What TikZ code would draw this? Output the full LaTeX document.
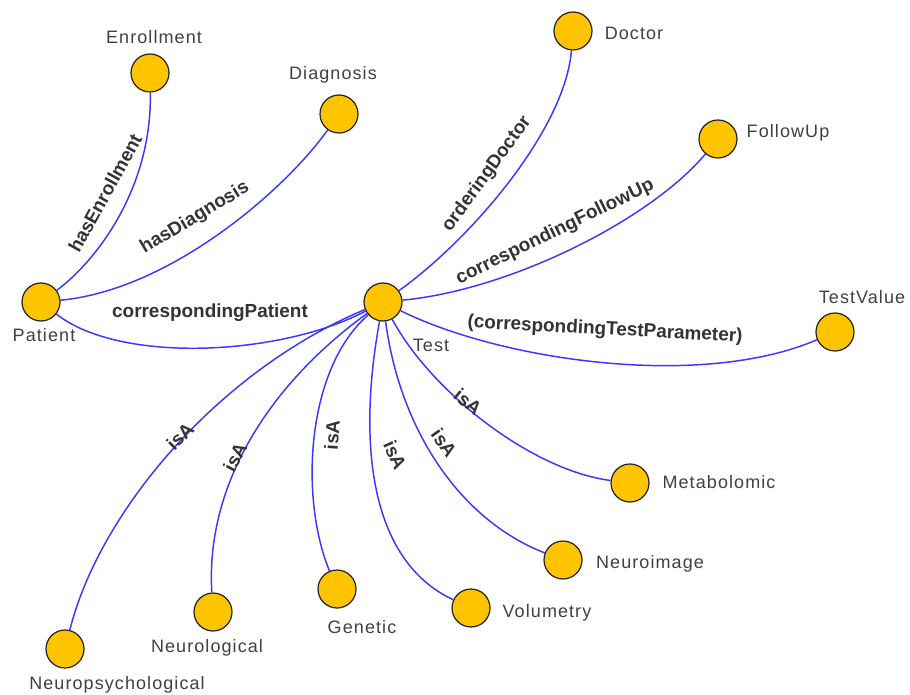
\documentclass[tikz,border=0pt]{standalone}
\usepackage{fontspec}
\setmainfont{Liberation Sans}
\newfontfamily\lblfont[LetterSpace=6]{Liberation Sans}
\definecolor{nodefill}{HTML}{FFC400}
\definecolor{nodeline}{HTML}{222222}
\definecolor{edgeblue}{HTML}{3838FF}
\definecolor{txtgray}{HTML}{404040}
\definecolor{lblgray}{HTML}{333333}
\begin{document}
\begin{tikzpicture}[x=0.75pt,y=-0.75pt,
  cls/.style={circle,fill=nodefill,draw=nodeline,line width=0.9pt,minimum size=28.5pt,inner sep=0pt},
  nametext/.style={text=txtgray,font=\lblfont\fontsize{13.5pt}{15pt}\selectfont,inner sep=0pt},
  rel/.style={text=lblgray,font=\bfseries\fontsize{14.2pt}{16pt}\selectfont,inner sep=0pt},
  conn/.style={draw=edgeblue,line width=1.1pt}]
\useasboundingbox (0,0) rectangle (910,695);
% nodes
\node[cls] (enr) at (150,73) {};
\node[cls] (dia) at (339,114) {};
\node[cls] (pat) at (41,302) {};
\node[cls] (tst) at (383,302) {};
\node[cls] (doc) at (573,31) {};
\node[cls] (fol) at (718,139) {};
\node[cls] (tv) at (835,332) {};
\node[cls] (met) at (630,483) {};
\node[cls] (nim) at (563,560) {};
\node[cls] (vol) at (471,608) {};
\node[cls] (gen) at (337,589) {};
\node[cls] (nrl) at (213,612) {};
\node[cls] (nps) at (65,649) {};
% node names
\node[nametext] (enrT) at (154,37) {Enrollment};
\node[nametext] (diaT) at (333,75) {Diagnosis};
\node[nametext] (patT) at (44,335) {Patient};
\node[nametext] (tstT) at (431,345) {Test};
\node[nametext] (docT) at (634,33) {Doctor};
\node[nametext] (folT) at (788,133) {FollowUp};
\node[nametext] (tvT) at (862,297) {TestValue};
\node[nametext] (metT) at (719,482) {Metabolomic};
\node[nametext] (nimT) at (650,564) {Neuroimage};
\node[nametext] (volT) at (547,613) {Volumetry};
\node[nametext] (genT) at (362,627) {Genetic};
\node[nametext] (nrlT) at (207,648) {Neurological};
\node[nametext] (npsT) at (117,685) {Neuropsychological};
% edges
\draw[conn] (pat) .. controls (95,262) and (152,190) .. (enr);
\draw[conn] (pat) .. controls (170,290) and (285,190) .. (dia);
\draw[conn] (pat) .. controls (120,364) and (280,356) .. (tst);
\draw[conn] (tst) .. controls (470,240) and (565,130) .. (doc);
\draw[conn] (tst) .. controls (510,290) and (650,220) .. (fol);
\draw[conn] (tst) .. controls (500,360) and (700,390) .. (tv);
\draw[conn] (tst) .. controls (430,390) and (530,470) .. (met);
\draw[conn] (tst) .. controls (400,430) and (460,520) .. (nim);
\draw[conn] (tst) .. controls (358,440) and (368,560) .. (vol);
\draw[conn] (tst) .. controls (305,370) and (300,500) .. (gen);
\draw[conn] (tst) .. controls (275,380) and (205,480) .. (nrl);
\draw[conn] (tst) .. controls (220,370) and (100,510) .. (nps);
% edge labels
\node[rel,rotate=61] (l1) at (105,193) {hasEnrollment};
\node[rel,rotate=31] (l2) at (195,218) {hasDiagnosis};
\node[rel] (l3) at (210,313) {correspondingPatient};
\node[rel,rotate=54] (l4) at (487,174) {orderingDoctor};
\node[rel,rotate=26] (l5) at (555,232) {correspondingFollowUp};
\node[rel,rotate=-3] (l6) at (605,330) {(correspondingTestParameter)};
\node[rel,rotate=-40] (l7) at (468,402) {isA};
\node[rel,rotate=-55] (l8) at (444,443) {isA};
\node[rel,rotate=-66] (l9) at (395,455) {isA};
\node[rel,rotate=86] (l10) at (332,435) {isA};
\node[rel,rotate=62] (l11) at (235,457) {isA};
\node[rel,rotate=45] (l12) at (180,436) {isA};
\end{tikzpicture}
\end{document}
